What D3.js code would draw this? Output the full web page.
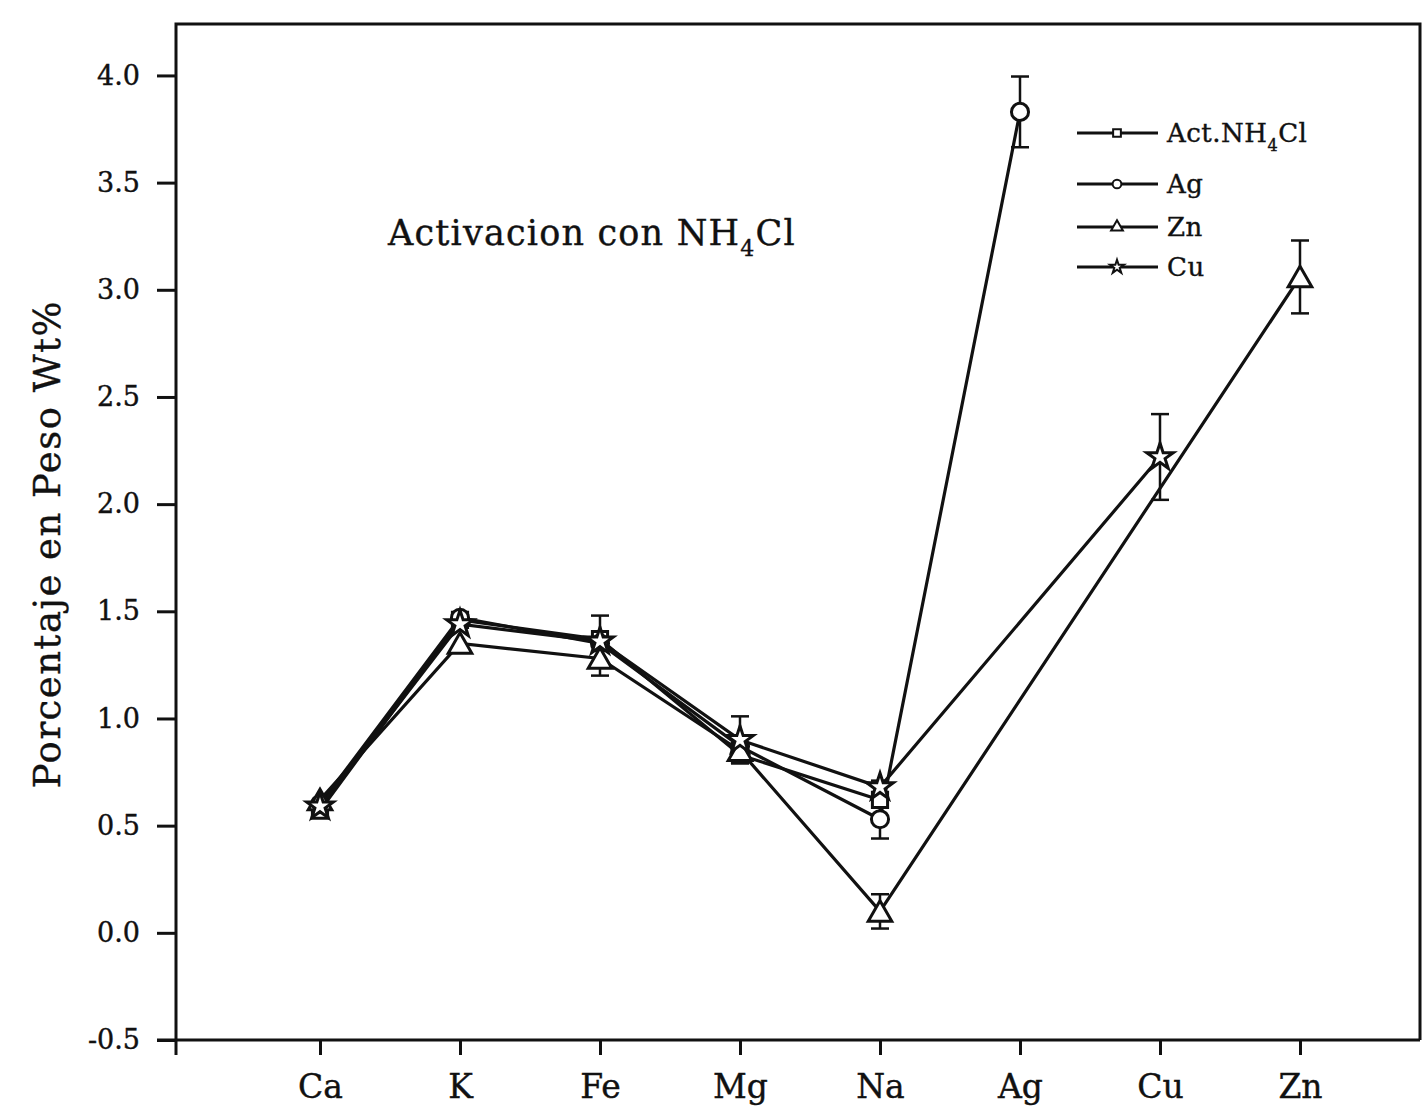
<!DOCTYPE html>
<html>
<head>
<meta charset="utf-8">
<script src="https://cdn.jsdelivr.net/npm/d3@7"></script>
<style>
  body { margin: 0; background: #fff; }
  text { font-family: "DejaVu Serif", serif; fill: #111; stroke: #111; stroke-width: 0.4; }
</style>
</head>
<body>
<div id="chart"></div>
<script>
// categories on the x axis
const categories = ["Ca", "K", "Fe", "Mg", "Na", "Ag", "Cu", "Zn"];
const yTicks = [-0.5, 0.0, 0.5, 1.0, 1.5, 2.0, 2.5, 3.0, 3.5, 4.0];

// series values (null = not measured)
const actValues = [0.57, 1.46, 1.37, 0.83, 0.62, null, null, null];
const agValues  = [0.60, 1.47, 1.35, 0.87, 0.53, 3.83, null, null];
const znValues  = [0.62, 1.35, 1.28, 0.85, 0.10, null, null, 3.06];
const cuValues  = [0.59, 1.44, 1.36, 0.90, 0.68, null, 2.22, null];

// error bars (+/-)
const actErr = [null, null, 0.11, null, 0.09, null, null, null];
const agErr  = [null, null, null, null, 0.09, 0.165, null, null];
const znErr  = [null, null, 0.08, null, 0.08, null, null, 0.17];
const cuErr  = [null, null, null, 0.11, null, null, 0.20, null];

const series = [
  { name: ["Act.NH", "4", "Cl"], values: actValues, err: actErr, symbol: d3.symbolSquare },
  { name: ["Ag"], values: agValues, err: agErr, symbol: d3.symbolCircle },
  { name: ["Zn"], values: znValues, err: znErr, symbol: d3.symbolTriangle },
  { name: ["Cu"], values: cuValues, err: cuErr, symbol: d3.symbolStar }
];

const width = 1422;
const height = 1116;
const frame = { left: 176, right: 1420, top: 24, bottom: 1040 };

const svg = d3.select("#chart")
  .append("svg")
  .attr("width", width)
  .attr("height", height);

const x = d3.scalePoint()
  .domain(categories)
  .range([320, 1300]);

const y = d3.scaleLinear()
  .domain([-0.5, 4.24])
  .range([frame.bottom, frame.top]);

// frame (left, top, right)
svg.append("path")
  .attr("d", `M${frame.left},${frame.bottom} V${frame.top} H${frame.right} V${frame.bottom}`)
  .attr("fill", "none")
  .attr("stroke", "#111")
  .attr("stroke-width", 3);

// y axis (hyphen instead of unicode minus, like the original)
const yAxis = svg.append("g")
  .attr("transform", `translate(${frame.left},0)`)
  .call(d3.axisLeft(y).tickValues(yTicks)
    .tickFormat(d => d.toFixed(1))
    .tickSize(19).tickPadding(17));
yAxis.select(".domain").remove();
yAxis.selectAll("line").attr("stroke", "#111").attr("stroke-width", 3);
yAxis.selectAll("text").attr("font-size", 27).style("font-family", "DejaVu Serif");

// x axis
const xAxis = svg.append("g")
  .attr("transform", `translate(0,${frame.bottom})`)
  .call(d3.axisBottom(x).tickSize(15).tickPadding(20));
xAxis.select(".domain").remove();
xAxis.selectAll("line").attr("stroke", "#111").attr("stroke-width", 3);
xAxis.selectAll("text").attr("font-size", 33).style("font-family", "DejaVu Serif");

// bottom axis line + corner tick
svg.append("line")
  .attr("x1", frame.left - 19).attr("x2", frame.right)
  .attr("y1", frame.bottom).attr("y2", frame.bottom)
  .attr("stroke", "#111").attr("stroke-width", 3);
svg.append("line")
  .attr("x1", frame.left).attr("x2", frame.left)
  .attr("y1", frame.bottom).attr("y2", frame.bottom + 15)
  .attr("stroke", "#111").attr("stroke-width", 3);

// lines
const line = d3.line()
  .x(d => x(d.cat))
  .y(d => y(d.v));

series.forEach(s => {
  s.points = categories.map((c, i) => ({ cat: c, v: s.values[i], e: s.err[i] }))
    .filter(d => d.v != null);
});

svg.selectAll(".series-line")
  .data(series)
  .enter()
  .append("path")
  .attr("class", "series-line")
  .attr("d", s => line(s.points))
  .attr("fill", "none")
  .attr("stroke", "#111")
  .attr("stroke-width", 3.2);

// error bars
const errPoints = series.flatMap(s => s.points.filter(d => d.e != null));
const eb = svg.selectAll(".errbar")
  .data(errPoints)
  .enter()
  .append("g")
  .attr("class", "errbar")
  .attr("stroke", "#111")
  .attr("stroke-width", 2.5);
eb.append("line")
  .attr("x1", d => x(d.cat)).attr("x2", d => x(d.cat))
  .attr("y1", d => y(d.v - d.e)).attr("y2", d => y(d.v + d.e));
eb.append("line")
  .attr("x1", d => x(d.cat) - 9).attr("x2", d => x(d.cat) + 9)
  .attr("y1", d => y(d.v + d.e)).attr("y2", d => y(d.v + d.e));
eb.append("line")
  .attr("x1", d => x(d.cat) - 9).attr("x2", d => x(d.cat) + 9)
  .attr("y1", d => y(d.v - d.e)).attr("y2", d => y(d.v - d.e));

// markers
series.forEach(s => {
  const size = s.symbol === d3.symbolTriangle ? 240 : (s.symbol === d3.symbolStar ? 220 : 230);
  svg.selectAll(null)
    .data(s.points)
    .enter()
    .append("path")
    .attr("d", d3.symbol().type(s.symbol).size(size))
    .attr("transform", d => `translate(${x(d.cat)},${y(d.v) + (s.symbol === d3.symbolTriangle ? 3 : 0)})`)
    .attr("fill", "#fff")
    .attr("stroke", "#111")
    .attr("stroke-width", 3);
});

// legend
const legend = svg.append("g").attr("transform", "translate(1077,0)");
const legendY = [133, 184, 227, 267];
series.forEach((s, i) => {
  const g = legend.append("g").attr("transform", `translate(0,${legendY[i]})`);
  g.append("line").attr("x1", 0).attr("x2", 81).attr("y1", 0).attr("y2", 0)
    .attr("stroke", "#111").attr("stroke-width", 3);
  g.append("path")
    .attr("d", d3.symbol().type(s.symbol).size(60))
    .attr("transform", "translate(40,0)")
    .attr("fill", "#fff").attr("stroke", "#111").attr("stroke-width", 2);
  const t = g.append("text").attr("x", 90).attr("y", 9)
    .attr("font-size", 26).attr("letter-spacing", 0.5);
  t.append("tspan").text(s.name[0]);
  if (s.name.length > 1) {
    t.append("tspan").attr("font-size", 16).attr("dy", 9).text(s.name[1]);
    t.append("tspan").attr("dy", -9).text(s.name[2]);
  }
});

// annotation
const ann = svg.append("text")
  .attr("x", 388).attr("y", 245)
  .attr("font-size", 35)
  .attr("letter-spacing", 1.2);
ann.append("tspan").text("Activacion con NH");
ann.append("tspan").attr("font-size", 22).attr("dy", 11).text("4");
ann.append("tspan").attr("dy", -11).text("Cl");

// y axis label
svg.append("text")
  .attr("transform", "translate(60,544) rotate(-90)")
  .attr("text-anchor", "middle")
  .attr("font-size", 37)
  .attr("letter-spacing", 1.5)
  .text("Porcentaje en Peso Wt%");
</script>
</body>
</html>
